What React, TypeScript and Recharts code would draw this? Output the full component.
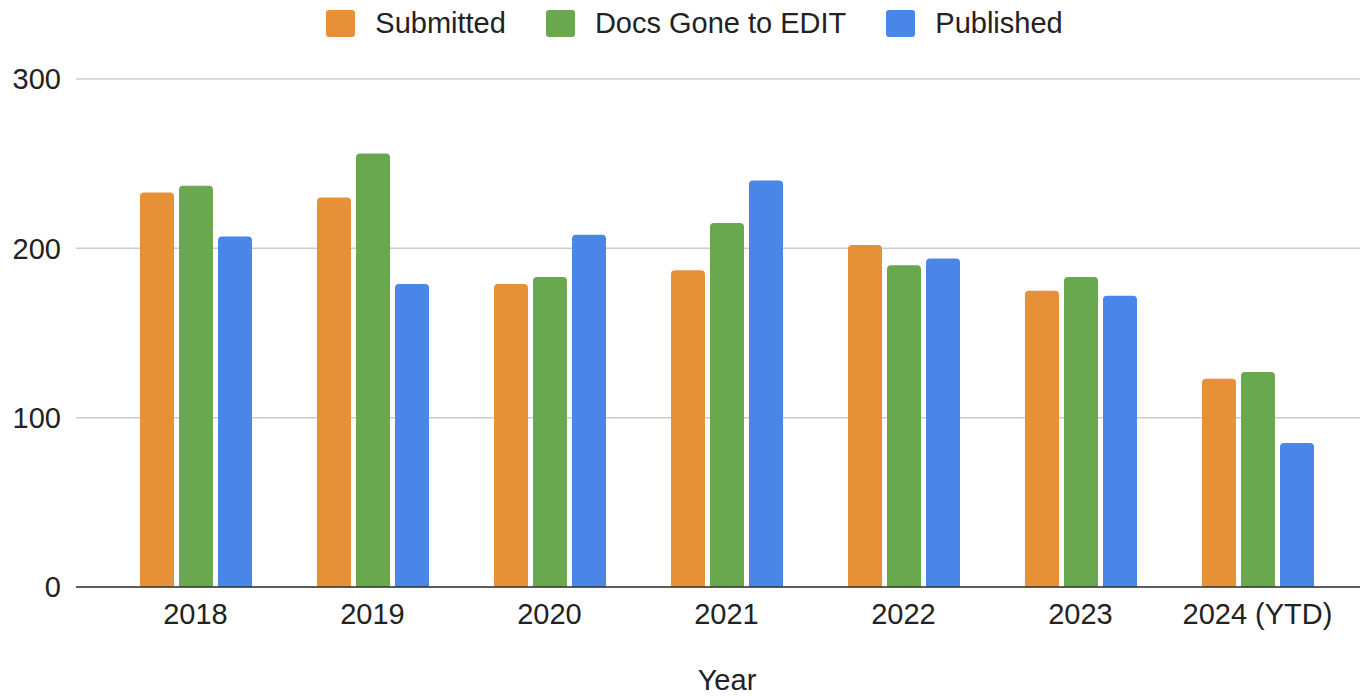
import { Bar, BarChart, CartesianGrid, Legend, XAxis, YAxis } from "recharts";

const years = ["2018", "2019", "2020", "2021", "2022", "2023", "2024 (YTD)"];
const submitted = [233, 230, 179, 187, 202, 175, 123];
const docsToEdit = [237, 256, 183, 215, 190, 183, 127];
const published = [207, 179, 208, 240, 194, 172, 85];
const yTicks = [0, 100, 200, 300];

const series = [
  { key: "submitted", name: "Submitted", color: "#e69138" },
  { key: "docsToEdit", name: "Docs Gone to EDIT", color: "#6aa84f" },
  { key: "published", name: "Published", color: "#4a86e8" },
];

const data = years.map((year, i) => ({
  year,
  submitted: submitted[i],
  docsToEdit: docsToEdit[i],
  published: published[i],
}));

const FONT = '"Liberation Sans", Arial, sans-serif';
const FS = 29;

function LegendContent() {
  return (
    <div
      style={{
        display: "flex",
        justifyContent: "center",
        alignItems: "center",
        paddingLeft: 29,
        height: 46,
        fontFamily: FONT,
        fontSize: FS,
        color: "#222",
      }}
    >
      {series.map((s, i) => (
        <div
          key={s.key}
          style={{ display: "flex", alignItems: "center", marginLeft: i === 0 ? 0 : 40 }}
        >
          <span
            style={{
              display: "inline-block",
              width: 29,
              height: 27,
              borderRadius: 3,
              background: s.color,
              marginRight: 20,
            }}
          />
          <span>{s.name}</span>
        </div>
      ))}
    </div>
  );
}

export default function App() {
  return (
    <div style={{ position: "absolute", left: 0, top: 0, background: "#fff" }}>
      <BarChart
        width={1360}
        height={696}
        data={data}
        margin={{ top: 33, right: 0, bottom: 0, left: 0 }}
        barSize={34}
        barGap={5}
        style={{ fontFamily: FONT }}
      >
        <CartesianGrid vertical={false} stroke="#cccccc" strokeWidth={1.5} />
        <Legend
          verticalAlign="top"
          align="center"
          content={<LegendContent />}
          wrapperStyle={{ top: 0, left: 0, width: 1360, height: 46 }}
        />
        <XAxis
          dataKey="year"
          height={109}
          padding={{ left: 31, right: 14 }}
          tickLine={false}
          axisLine={{ stroke: "#333", strokeWidth: 1.5 }}
          tickMargin={10}
          tick={{ fill: "#222", fontSize: FS, fontFamily: FONT }}
          label={{
            value: "Year",
            position: "insideBottom",
            offset: 6,
            dx: 9,
            fill: "#222",
            fontSize: FS,
            fontFamily: FONT,
          }}
        />
        <YAxis
          width={76}
          domain={[0, 300]}
          ticks={yTicks}
          tickLine={false}
          axisLine={false}
          tickMargin={9}
          tick={{ fill: "#222", fontSize: FS, fontFamily: FONT }}
        />
        {series.map((s) => (
          <Bar
            key={s.key}
            dataKey={s.key}
            name={s.name}
            fill={s.color}
            radius={[4, 4, 0, 0]}
            isAnimationActive={false}
          />
        ))}
      </BarChart>
    </div>
  );
}
